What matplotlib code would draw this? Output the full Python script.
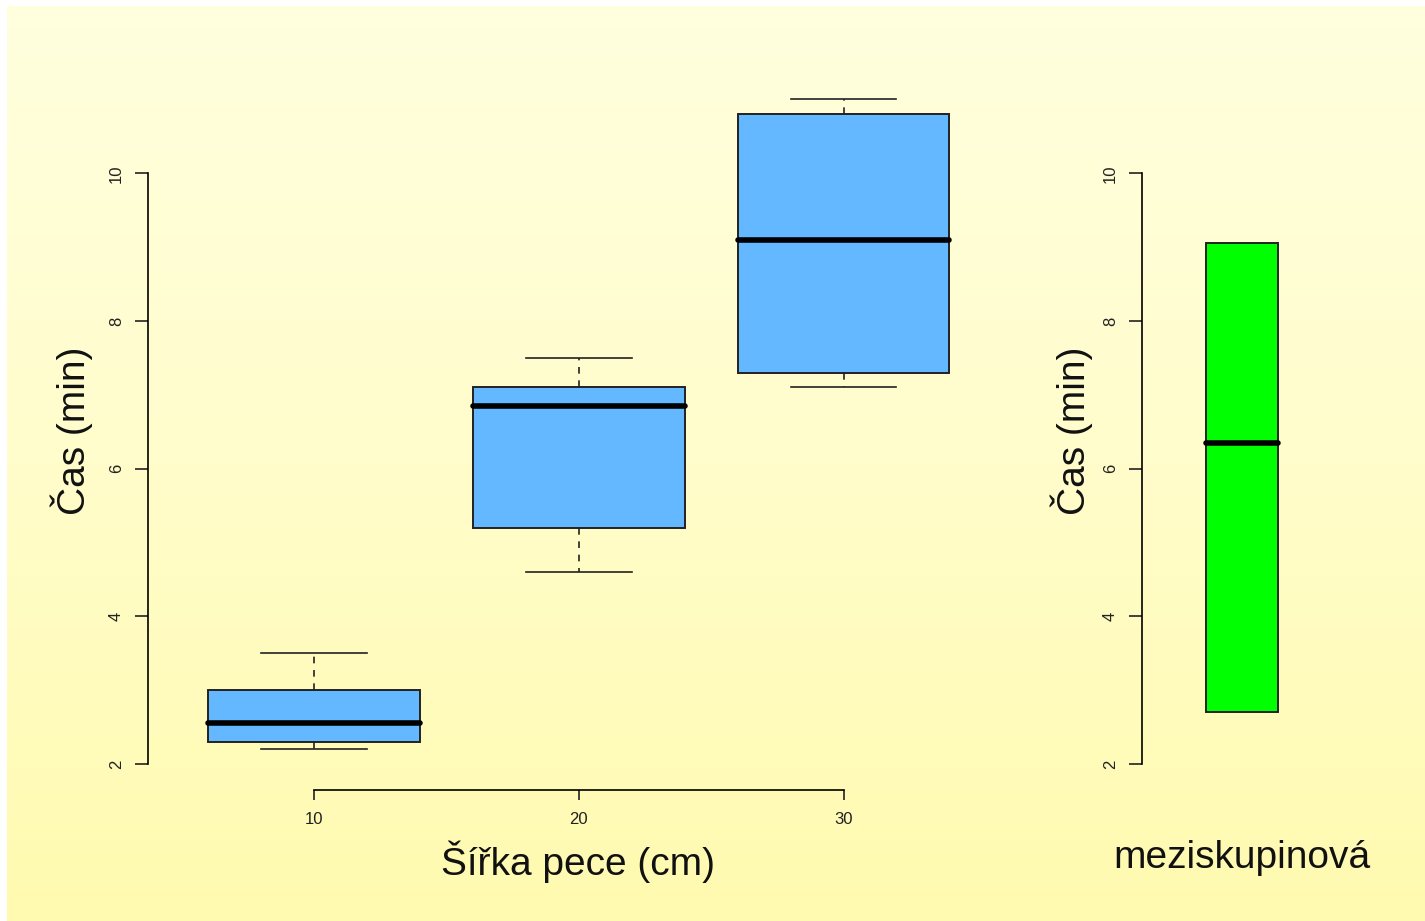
import numpy as np
import matplotlib
matplotlib.use("Agg")
import matplotlib.pyplot as plt
from matplotlib.colors import LinearSegmentedColormap

# ---- data ----
widths_cm = [10, 20, 30]
whisker_low = [2.2, 4.6, 7.1]
q1 = [2.3, 5.2, 7.3]
median = [2.55, 6.85, 9.1]
q3 = [3.0, 7.1, 10.8]
whisker_high = [3.5, 7.5, 11.0]

# between-group summary (box only, no whiskers)
between_q1 = 2.7
between_median = 6.35
between_q3 = 9.05

y_ticks = [2, 4, 6, 8, 10]

W, H = 1425, 921
plt.rcParams["font.family"] = ["Liberation Sans", "DejaVu Sans"]

fig = plt.figure(figsize=(W / 100, H / 100), dpi=100, facecolor="white")


def px_axes(x0, y0, x1, y1, **kw):
    # pixel box (top-left origin) -> figure fraction axes
    return fig.add_axes([x0 / W, 1 - y1 / H, (x1 - x0) / W, (y1 - y0) / H], **kw)


# ---------- background gradient ----------
bg = px_axes(7, 6, W, H)
cmap = LinearSegmentedColormap.from_list("bg", ["#FFFFDE", "#FFFDCB", "#FFFAAF"])
bg.imshow(np.linspace(0, 1, 256).reshape(-1, 1), aspect="auto", cmap=cmap,
          extent=[0, 1, 0, 1], origin="upper")
bg.set_axis_off()

box_style = dict(facecolor="#63B8FF", edgecolor="#222222", linewidth=1.4)
med_style = dict(color="black", linewidth=4.0, solid_capstyle="round")
whisk_style = dict(color="#222222", linewidth=1.2, linestyle=(0, (4, 4)))
cap_style = dict(color="#222222", linewidth=1.2)


def style_yaxis(ax):
    for s in ["top", "right"]:
        ax.spines[s].set_visible(False)
    ax.spines["left"].set_bounds(2, 10)
    ax.spines["left"].set_linewidth(1.2)
    ax.set_yticks(y_ticks)
    ax.set_yticklabels([str(t) for t in y_ticks], rotation=90, va="center",
                       fontsize=12)
    ax.tick_params(axis="y", length=9.3, width=1.2, pad=8, colors="#222222")
    ax.patch.set_alpha(0)


# ---------- left panel ----------
ax1 = px_axes(148, 90, 960, 790)
stats = []
for i in range(len(widths_cm)):
    stats.append(dict(med=median[i], q1=q1[i], q3=q3[i],
                      whislo=whisker_low[i], whishi=whisker_high[i], fliers=[]))
ax1.bxp(stats, positions=widths_cm, widths=8, capwidths=4, patch_artist=True,
        boxprops=box_style, medianprops=med_style, whiskerprops=whisk_style,
        capprops=cap_style, showfliers=False, manage_ticks=False)
ax1.set_xlim(3.73, 34.40)
ax1.set_ylim(1.648, 11.128)
style_yaxis(ax1)
ax1.spines["bottom"].set_bounds(10, 30)
ax1.spines["bottom"].set_linewidth(1.2)
ax1.set_xticks(widths_cm)
ax1.set_xticklabels([str(w) for w in widths_cm], fontsize=12)
ax1.tick_params(axis="x", length=7.3, width=1.2, pad=8.5, colors="#222222")

# ---------- right panel ----------
ax2 = px_axes(1142, 90, 1342, 790)
ax2.bxp([dict(med=between_median, q1=between_q1, q3=between_q3,
              whislo=between_q1, whishi=between_q3, fliers=[])],
        positions=[1], widths=0.36, patch_artist=True,
        boxprops=dict(facecolor="#00FF00", edgecolor="#222222", linewidth=1.4),
        medianprops=med_style, whiskerprops=dict(linewidth=0),
        showcaps=False, showfliers=False, manage_ticks=False)
ax2.set_xlim(0.5, 1.5)
ax2.set_ylim(1.648, 11.128)
style_yaxis(ax2)
ax2.spines["bottom"].set_visible(False)
ax2.set_xticks([])

# ---------- labels ----------
lab = dict(fontsize=28, color="#111111", ha="center", va="center")
fig.text(72 / W, 1 - 431 / H, "Čas (min)", rotation=90, **lab)
fig.text(1072 / W, 1 - 431 / H, "Čas (min)", rotation=90, **lab)
fig.text(578 / W, 1 - 862 / H, "Šířka pece (cm)", **lab)
fig.text(1242 / W, 1 - 858 / H, "meziskupinová", **lab)

fig.savefig("out.png", dpi=100, facecolor=fig.get_facecolor())
